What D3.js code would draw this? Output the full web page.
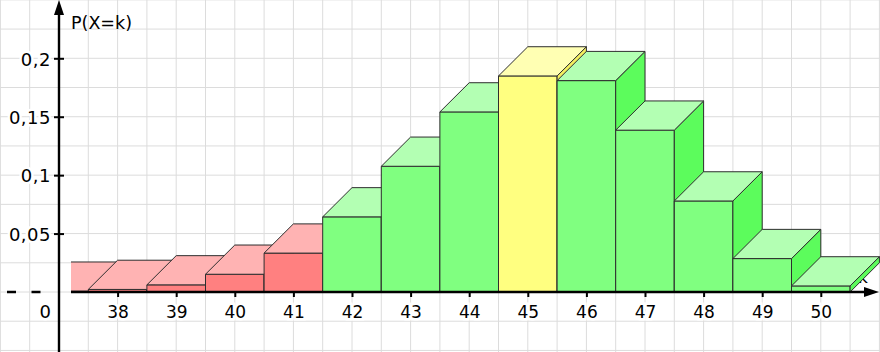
<!DOCTYPE html>
<html>
<head>
<meta charset="utf-8">
<script src="https://cdn.jsdelivr.net/npm/d3@7"></script>
<style>
  body { margin: 0; background: #fff; }
  svg { display: block; font-family: "DejaVu Sans", Verdana, sans-serif; }
</style>
</head>
<body>
<div class="chart"></div>
<script>
// Werte k und P(X=k)
const ks = [37, 38, 39, 40, 41, 42, 43, 44, 45, 46, 47, 48, 49, 50];
const probs = [0.0007, 0.0022, 0.0061, 0.0152, 0.0333, 0.0643, 0.1076, 0.1541,
               0.1849, 0.1809, 0.1385, 0.0779, 0.0286, 0.0052];
const xTickValues = [38, 39, 40, 41, 42, 43, 44, 45, 46, 47, 48, 49, 50];
const yTickValues = [0.05, 0.1, 0.15, 0.2];
const redUpTo = 41;     // linker Bereich rot
const highlightK = 45;  // gelb markiert

const width = 880, height = 352;

const svg = d3.select("div.chart").append("svg")
  .attr("width", width)
  .attr("height", height);

const x = d3.scaleLinear().domain([37, 50]).range([59, 820.8]);
const y = d3.scaleLinear().domain([0, 0.2]).range([292, 58.3]);

// Tiefe der 3D-Säulen in Dateneinheiten
const depthK = 0.5, depthP = 0.025;

const palette = {
  red:    {front: "#ff8080", top: "#ffb3b3", side: "#ff6262"},
  green:  {front: "#80ff80", top: "#b3ffb3", side: "#5cfc5c"},
  yellow: {front: "#ffff80", top: "#ffffb3", side: "#f4f060"}
};

// Gitter
const grid = svg.append("g").attr("stroke", "#dcdcdc").attr("stroke-width", 1);
d3.range(36, 52, 0.5).forEach(function(k) {
  grid.append("line")
    .attr("x1", x(k)).attr("x2", x(k))
    .attr("y1", 0).attr("y2", height);
});
d3.range(-0.05, 0.26, 0.025).forEach(function(p) {
  grid.append("line")
    .attr("x1", 0).attr("x2", width)
    .attr("y1", y(p)).attr("y2", y(p));
});

// Achsenbeschriftung k (wird von der letzten Säule fast ganz verdeckt)
svg.append("text")
  .attr("x", 858)
  .attr("y", 283)
  .style("font-size", "17px")
  .text("k");

svg.append("clipPath")
  .attr("id", "plot-clip")
  .append("rect")
  .attr("x", 71).attr("y", 0)
  .attr("width", width - 71).attr("height", 292);

const bars = svg.append("g").attr("clip-path", "url(#plot-clip)");

ks.forEach(function(k, i) {
  const p = probs[i];
  const c = k <= redUpTo ? palette.red : (k === highlightK ? palette.yellow : palette.green);
  const x0 = x(k - 0.5), x1 = x(k + 0.5);
  const xb0 = x(k - 0.5 + depthK), xb1 = x(k + 0.5 + depthK);
  const y0 = y(0), yt = y(p);
  const yb0 = y(depthP), ybt = y(p + depthP);

  const g = bars.append("g")
    .attr("stroke", "#2e2e2e")
    .attr("stroke-width", 1)
    .attr("stroke-linejoin", "round");

  g.append("rect")
    .attr("x", x0).attr("y", yt)
    .attr("width", x1 - x0).attr("height", y0 - yt)
    .attr("fill", c.front);

  g.append("polygon")
    .attr("points", [[x1, yt], [xb1, ybt], [xb1, yb0], [x1, y0]].join(" "))
    .attr("fill", c.side);

  g.append("polygon")
    .attr("points", [[x0, yt], [x1, yt], [xb1, ybt], [xb0, ybt]].join(" "))
    .attr("fill", c.top);
});

// Dezimalkomma
const de = d3.formatLocale({decimal: ",", thousands: ".", grouping: [3], currency: ["", ""]});

// x-Achse
const xAxis = svg.append("g")
  .attr("transform", `translate(0,${y(0)})`)
  .call(d3.axisBottom(x).tickValues(xTickValues).tickSize(5).tickPadding(9));
xAxis.select(".domain").remove();
xAxis.selectAll(".tick line").attr("stroke", "#000").attr("stroke-width", 2);
xAxis.selectAll(".tick text")
  .attr("fill", "#000")
  .attr("stroke", "#fff").attr("stroke-width", 5).attr("paint-order", "stroke")
  .style("font-size", "17px")
  .style("font-family", "DejaVu Sans, sans-serif");

svg.append("line")
  .attr("x1", 71).attr("x2", 866)
  .attr("y1", y(0)).attr("y2", y(0))
  .attr("stroke", "#000").attr("stroke-width", 2.4);
svg.append("polygon")
  .attr("points", [[879, y(0)], [864, y(0) - 5], [864, y(0) + 5]].join(" "))
  .attr("fill", "#000");

// gestrichelt links der y-Achse
svg.append("line")
  .attr("x1", 7).attr("x2", 56)
  .attr("y1", y(0)).attr("y2", y(0))
  .attr("stroke", "#000").attr("stroke-width", 2.4)
  .attr("stroke-dasharray", "9 15.5");

// y-Achse
const yAxis = svg.append("g")
  .attr("transform", `translate(${x(37)},0)`)
  .call(d3.axisLeft(y).tickValues(yTickValues).tickSize(5).tickPadding(3)
    .tickFormat(de.format(".2~f")));
yAxis.select(".domain").remove();
yAxis.selectAll(".tick line")
  .attr("x1", -5).attr("x2", 5)
  .attr("stroke", "#000").attr("stroke-width", 2);
yAxis.selectAll(".tick text")
  .attr("fill", "#000")
  .attr("dy", "0.38em")
  .attr("stroke", "#fff").attr("stroke-width", 5).attr("paint-order", "stroke")
  .style("font-size", "18px")
  .style("letter-spacing", "0.5px")
  .style("font-family", "DejaVu Sans, sans-serif");

svg.append("line")
  .attr("x1", x(37)).attr("x2", x(37))
  .attr("y1", height).attr("y2", 12)
  .attr("stroke", "#000").attr("stroke-width", 2.4);
svg.append("polygon")
  .attr("points", [[x(37), 0], [x(37) - 5, 15], [x(37) + 5, 15]].join(" "))
  .attr("fill", "#000");

// Null unten links
svg.append("text")
  .attr("x", 51)
  .attr("y", 318)
  .attr("text-anchor", "end")
  .attr("fill", "#000")
  .attr("stroke", "#fff").attr("stroke-width", 5).attr("paint-order", "stroke")
  .style("font-size", "18px")
  .text("0");

// y-Beschriftung
svg.append("text")
  .attr("x", 71)
  .attr("y", 29)
  .attr("fill", "#000")
  .style("font-size", "17.5px")
  .text("P(X=k)");
</script>
</body>
</html>
